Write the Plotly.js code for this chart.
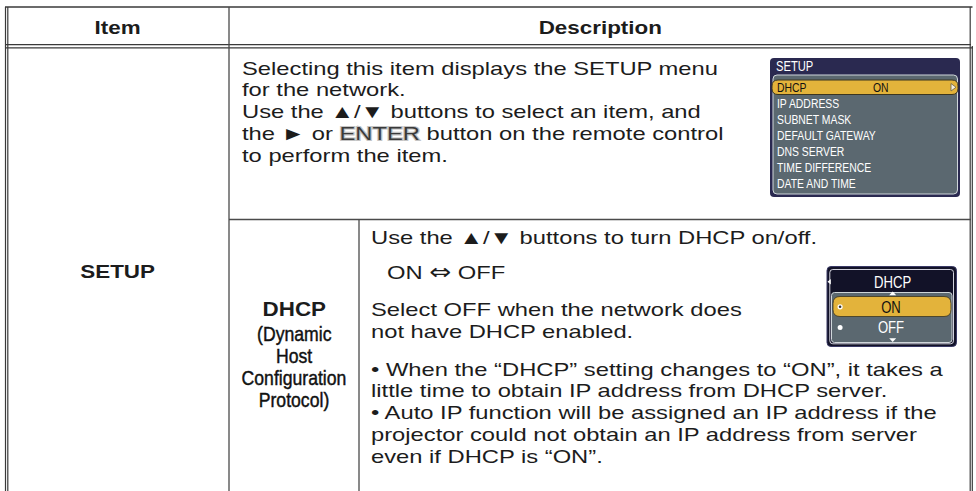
<!DOCTYPE html>
<html><head><meta charset="utf-8">
<script src="https://cdn.plot.ly/plotly-3.0.1.min.js"></script>
<style>html,body{margin:0;padding:0;background:#fff}#chart{width:976px;height:491px}</style>
</head><body><div id="chart"></div>
<script>
// ---------- content ----------
const headers = ["Item", "Description"];
const itemName = "SETUP";
const setupDescLines = [
  "Selecting this item displays the SETUP menu",
  "for the network.",
  "Use the ▲/▼ buttons to select an item, and",
  "the ► or <span style=\"color:#3a3a3a;stroke:#c4c4c4;stroke-width:2.2px;paint-order:stroke fill\">ENTER</span> button on the remote control",
  "to perform the item."
];
const dhcpLabelTitle = "DHCP";
const dhcpLabelLines = ["(Dynamic", "Host", "Configuration", "Protocol)"];
const dhcpIntroLine = "Use the ▲/▼ buttons to turn DHCP on/off.";
const dhcpToggleLine = "ON <span style=\"font-family:DejaVu Sans;font-size:21px\">⇔</span> OFF";
const dhcpOffLines = ["Select OFF when the network does", "not have DHCP enabled."];
const dhcpNoteLines = [
  "• When the “DHCP” setting changes to “ON”, it takes a",
  "little time to obtain IP address from DHCP server.",
  "• Auto IP function will be assigned an IP address if the",
  "projector could not obtain an IP address from server",
  "even if DHCP is “ON”."
];
const setupMenuTitle = "SETUP";
const setupMenuItems = ["DHCP", "IP ADDRESS", "SUBNET MASK", "DEFAULT GATEWAY", "DNS SERVER", "TIME DIFFERENCE", "DATE AND TIME"];
const setupMenuValue = "ON";
const dhcpMenuTitle = "DHCP";
const dhcpMenuOptions = ["ON", "OFF"];

// ---------- style ----------
const W = 976, H = 491;
const BODY = "Liberation Sans, Arial, Helvetica, sans-serif";
const INK = "#1c1c1c";
const RULE = "#3a3a3a";
const NAVY = "#2a2950", SLATE = "#5b6870", GOLD = "#e3b33b", PALE = "#cfd6da", DARK = "#121228";
const BODY_SIZE = 19, BODY_SX = 1.25;

const shapes = [];
const annotations = [];
const stretch = [];

function line(x0, y0, x1, y1, w, c) {
  shapes.push({type: "line", xref: "x", yref: "y", x0, y0, x1, y1, line: {color: c || RULE, width: w || 1}});
}
function rr(x0, y0, x1, y1, r) {
  return `M${x0 + r},${y0} L${x1 - r},${y0} Q${x1},${y0} ${x1},${y0 + r} L${x1},${y1 - r} Q${x1},${y1} ${x1 - r},${y1} ` +
         `L${x0 + r},${y1} Q${x0},${y1} ${x0},${y1 - r} L${x0},${y0 + r} Q${x0},${y0} ${x0 + r},${y0} Z`;
}
function pathShape(p, fill, lc, lw) {
  shapes.push({type: "path", xref: "x", yref: "y", path: p, fillcolor: fill, line: {color: lc || fill, width: lw === undefined ? 0 : lw}});
}
function txt(text, x, y, o) {
  o = o || {};
  const anchor = o.anchor || "left";
  annotations.push({
    text, x, y, xref: "x", yref: "y", showarrow: false,
    xanchor: anchor, yanchor: "middle", align: anchor === "center" ? "center" : "left",
    borderpad: 0,
    font: {family: BODY, size: o.size || BODY_SIZE, color: o.color || INK, weight: o.bold ? 700 : 400}
  });
  stretch.push({s: o.sx || 1, anchor, heavy: !!o.heavy});
}

// ---------- table rules ----------
const L = 6.5, R = 971, TOP = 7, COL = 229, SUB = 359, ROW1 = 219.5;
line(L - 1, TOP, L - 1, H + 10, 1.2);
line(L + 1.3, TOP, L + 1.3, H + 10, 1.2);
line(R - 0.8, TOP, R - 0.8, H + 10, 1.2);
line(R + 1.3, 46, R + 1.3, H + 10, 1.2);
line(L - 1.5, TOP, R + 1.5, TOP, 1.6);
line(L - 1, 44.6, R, 44.6, 1.2);
line(L - 1, 47.8, R + 2, 47.8, 1.2);
line(COL, TOP, COL, H + 10, 1.3, "#4a4a4a");
line(COL, ROW1, R, ROW1, 1.3, "#4a4a4a");
line(SUB, ROW1, SUB, H + 10, 1.3, "#4a4a4a");

// ---------- header ----------
txt(headers[0], (L + COL) / 2, 27, {anchor: "center", bold: true, size: 19, sx: 1.18});
txt(headers[1], (COL + R) / 2, 27, {anchor: "center", bold: true, size: 19, sx: 1.18});

// ---------- item ----------
txt(itemName, (L + COL) / 2, 271, {anchor: "center", bold: true, size: 19, sx: 1.18});

// ---------- setup description ----------
setupDescLines.forEach((t, i) => txt(t, 241, 68 + i * 21.75, {sx: BODY_SX}));

// ---------- setup OSD menu ----------
pathShape(rr(770, 58, 960, 197, 4), NAVY);
pathShape(rr(773, 75, 957.5, 194, 4), SLATE, PALE, 1);
pathShape(rr(772, 80, 958, 94.5, 6), GOLD, "#3b3520", 1);
pathShape("M951,83.5 L956,87.3 L951,91 Z", "#f4efe0", "#6b6040", 0.8);
txt(setupMenuTitle, 775, 66, {size: 14, sx: 0.8, color: "#ffffff"});
setupMenuItems.forEach((t, i) => txt(t, 776, 87.3 + i * 16.05, {size: 13, sx: 0.8, color: i === 0 ? "#111111" : "#ffffff"}));
txt(setupMenuValue, 872, 87.3, {size: 13, sx: 0.8, color: "#111111"});

// ---------- DHCP label ----------
const LBL_X = (COL + SUB) / 2;
txt(dhcpLabelTitle, LBL_X, 309, {anchor: "center", bold: true, size: 20, sx: 1.12});
dhcpLabelLines.forEach((t, i) => txt(t, LBL_X, 333 + i * 22, {anchor: "center", size: 20.5, sx: 0.86, color: "#111111", heavy: true}));

// ---------- DHCP description ----------
txt(dhcpIntroLine, 370, 237, {sx: BODY_SX});
txt(dhcpToggleLine, 386, 272, {sx: BODY_SX});
dhcpOffLines.forEach((t, i) => txt(t, 370, 309 + i * 22, {sx: BODY_SX}));
dhcpNoteLines.forEach((t, i) => txt(t, 370, 369 + i * 21.75, {sx: BODY_SX}));

// ---------- DHCP OSD menu ----------
pathShape(rr(827, 266.5, 956.5, 346.5, 4), DARK, "#3a3a66", 1);
pathShape(rr(829.8, 269.5, 953.5, 343.8, 3), "rgba(0,0,0,0)", "#e8e8f0", 0.9);
pathShape(rr(831.5, 292.5, 952, 342.5, 3), SLATE, PALE, 1);
pathShape(rr(833, 296.5, 951, 316.5, 7), GOLD, "#3b3520", 0.8);
pathShape("M827.5,281.8 L830.8,279 L830.8,284.6 Z", "#ffffff");
pathShape("M889.2,295.2 L892.7,291.5 L896.2,295.2 Z", "#ffffff");
pathShape("M889.2,338.3 L892.7,342 L896.2,338.3 Z", "#ffffff");
shapes.push({type: "circle", xref: "x", yref: "y", x0: 837.5, x1: 842.7, y0: 304.2, y1: 309.4, fillcolor: "#ffffff", line: {color: "#ffffff", width: 0}});
shapes.push({type: "circle", xref: "x", yref: "y", x0: 838.8, x1: 841.4, y0: 305.5, y1: 308.1, fillcolor: "#333333", line: {width: 0}});
shapes.push({type: "circle", xref: "x", yref: "y", x0: 837.6, x1: 842.6, y0: 325, y1: 330, fillcolor: "#ffffff", line: {width: 0}});
txt(dhcpMenuTitle, 892, 282, {anchor: "center", size: 16, sx: 0.82, color: "#ffffff"});
dhcpMenuOptions.forEach((t, i) => txt(t, 891, 307 + i * 20.5, {anchor: "center", size: 16, sx: 0.82, color: i === 0 ? "#111111" : "#ffffff"}));

// ---------- render ----------
const layout = {
  width: W, height: H,
  margin: {l: 0, r: 0, t: 0, b: 0, pad: 0},
  paper_bgcolor: "#ffffff", plot_bgcolor: "#ffffff",
  showlegend: false,
  xaxis: {range: [0, W], visible: false, fixedrange: true},
  yaxis: {range: [H, 0], visible: false, fixedrange: true},
  shapes, annotations
};
Plotly.newPlot("chart", [{type: "scatter", x: [], y: [], hoverinfo: "skip"}], layout, {staticPlot: true, displayModeBar: false})
  .then(() => {
    document.querySelectorAll("#chart g.annotation").forEach(g => {
      const i = +g.getAttribute("data-index");
      const sc = stretch[i];
      if (!sc) return;
      const t = g.querySelector("text.annotation-text");
      if (!t) return;
      if (sc.heavy) { t.style.stroke = "#111111"; t.style.strokeWidth = "0.45px"; }
      if (sc.s === 1) return;
      const bb = t.getBBox();
      const x0 = sc.anchor === "center" ? bb.x + bb.width / 2 : bb.x;
      const prev = t.getAttribute("transform") || "";
      t.setAttribute("transform", `${prev} translate(${x0 * (1 - sc.s)},0) scale(${sc.s},1)`);
    });
  });
</script>
</body></html>
